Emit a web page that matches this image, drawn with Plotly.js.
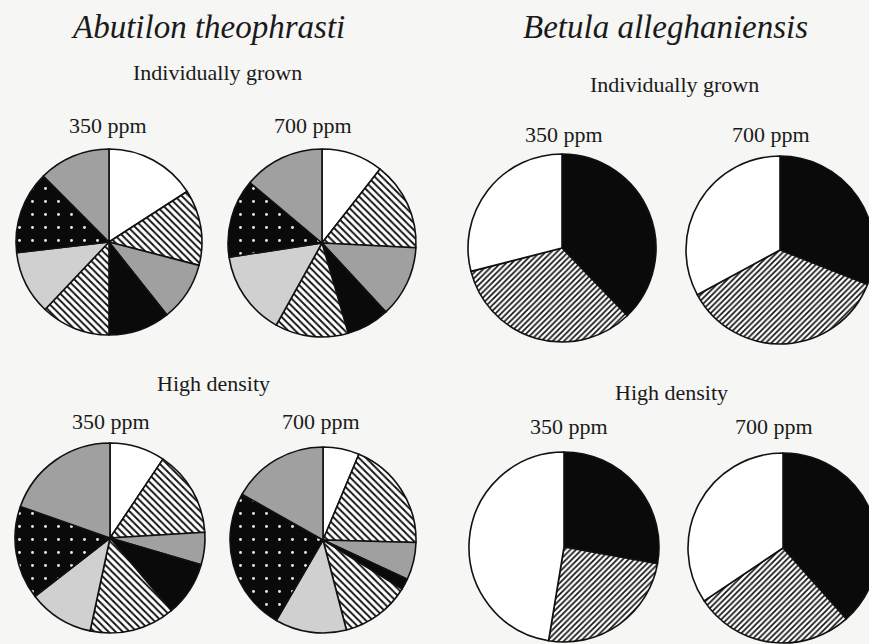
<!DOCTYPE html>
<html>
<head>
<meta charset="utf-8">
<script src="https://cdn.plot.ly/plotly-3.0.1.min.js"></script>
<style>
html,body{margin:0;padding:0;overflow:hidden;background:#f6f6f4;}
#chart{width:880px;height:644px;}
</style>
</head>
<body>
<div id="chart"></div>
<script>
// Plant part fractions (%), clockwise from 12 o'clock
const abutilonParts = ["Part 1","Part 2","Part 3","Part 4","Part 5","Part 6","Part 7","Part 8"];
const abutilonInd350 = [15.9, 13.2, 10.3, 10.7, 12.1, 11.1, 14.4, 12.5];
const abutilonInd700 = [10.6, 15.2, 12.3, 7.4, 12.6, 14.5, 13.5, 13.9];
const abutilonHD350  = [9.4, 14.6, 5.5, 9.3, 14.5, 11.1, 15.9, 19.6];
const abutilonHD700  = [6.3, 19.1, 6.5, 1.9, 12.1, 12.4, 24.8, 16.8];

const betulaParts = ["Part A","Part B","Part C"];
const betulaInd350 = [37.8, 33.2, 29.0];
const betulaInd700 = [31.0, 36.1, 32.9];
const betulaHD350  = [27.8, 24.8, 47.4];
const betulaHD700  = [38.4, 27.2, 34.4];

const W = 880, H = 644;

// styles
const abColors = ["#ffffff", "#ffffff", "#a0a0a0", "#0a0a0a", "#ffffff", "#d0d0d0", "#0a0a0a", "#a0a0a0"];
const abPattern = {
  shape:   ["", "\\", "", "", "\\", "", ".", ""],
  bgcolor: abColors,
  fgcolor: ["#ffffff", "#111111", "#a0a0a0", "#0a0a0a", "#111111", "#d0d0d0", "#e8e8e8", "#a0a0a0"],
  size:     [6, 5, 6, 6, 5, 6, 13, 6],
  solidity: [0.3, 0.38, 0.3, 0.3, 0.38, 0.3, 0.04, 0.3],
  fillmode: "replace"
};
const beColors = ["#0a0a0a", "#ffffff", "#ffffff"];
const bePattern = {
  shape:   ["", "/", ""],
  bgcolor: beColors,
  fgcolor: ["#0a0a0a", "#111111", "#ffffff"],
  size: 4, solidity: 0.42, fillmode: "replace"
};

function dom(cx, cy, r) {
  return {x: [(cx - r) / W, (cx + r) / W], y: [1 - (cy + r) / H, 1 - (cy - r) / H]};
}
function pie(labels, values, colors, pattern, cx, cy, r) {
  return {
    type: "pie", labels: labels, values: values, sort: false,
    direction: "clockwise", rotation: 0, textinfo: "none", hoverinfo: "skip",
    showlegend: false, domain: dom(cx, cy, r),
    marker: {colors: colors, pattern: pattern, line: {color: "#111111", width: 1.6}}
  };
}

const data = [
  pie(abutilonParts, abutilonInd350, abColors, abPattern, 109, 242, 93),
  pie(abutilonParts, abutilonInd700, abColors, abPattern, 322, 243, 94),
  pie(abutilonParts, abutilonHD350, abColors, abPattern, 110, 538, 95),
  pie(abutilonParts, abutilonHD700, abColors, abPattern, 323, 540, 93),
  pie(betulaParts, betulaInd350, beColors, bePattern, 562, 248, 94),
  pie(betulaParts, betulaInd700, beColors, bePattern, 780, 250, 94),
  pie(betulaParts, betulaHD350, beColors, bePattern, 564, 547, 95),
  pie(betulaParts, betulaHD700, beColors, bePattern, 783, 548, 95)
];

function ann(text, px, py, size, italic) {
  return {
    text: italic ? "<i>" + text + "</i>" : text,
    x: px / W, y: 1 - py / H, xref: "paper", yref: "paper",
    xanchor: "center", yanchor: "middle", showarrow: false,
    font: {family: "Liberation Serif, Times New Roman, serif", size: size, color: "#1a1a1a"}
  };
}

const layout = {
  width: W, height: H,
  margin: {l: 0, r: 0, t: 0, b: 0},
  paper_bgcolor: "#f6f6f4", plot_bgcolor: "#f6f6f4",
  annotations: [
    ann("Abutilon theophrasti", 208, 27, 33, true),
    ann("Betula alleghaniensis", 665, 27, 33, true),
    ann("Individually grown", 217, 73, 22),
    ann("Individually grown", 674, 84, 22),
    ann("350 ppm", 108, 126, 22),
    ann("700 ppm", 313, 126, 22),
    ann("350 ppm", 564, 134, 22),
    ann("700 ppm", 771, 134, 22),
    ann("High density", 213, 383, 22),
    ann("High density", 671, 392, 22),
    ann("350 ppm", 111, 421, 22),
    ann("700 ppm", 321, 421, 22),
    ann("350 ppm", 569, 426, 22),
    ann("700 ppm", 774, 426, 22)
  ]
};

Plotly.newPlot("chart", data, layout, {staticPlot: true, displayModeBar: false});
</script>
</body>
</html>
